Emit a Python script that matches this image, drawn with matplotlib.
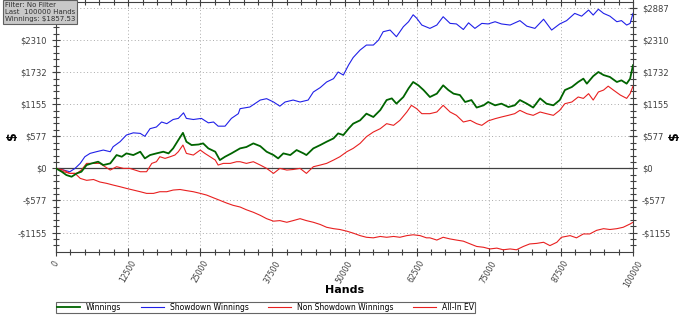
import numpy as np
import matplotlib.pyplot as plt

# hands / dollars
sd_hands = [0, 1300, 2400, 3300, 4200, 5000, 5900, 7000, 8200, 9400, 9900, 11100, 12200, 13400,
            14600, 15400, 16300, 17400, 18300, 19200, 20300, 21200, 22100, 22600, 23800, 25200,
            26400, 27300, 28100, 29300, 30400, 31600, 31900, 33600, 35400, 36500, 37700, 38800,
            39700, 41100, 42300, 43700, 44600, 45800, 46900, 48100, 48900, 49800, 50700, 51500,
            52700, 53800, 55000, 55900, 56700, 57900, 59000, 60200, 61100, 61900, 62500, 63400,
            64800, 66000, 67100, 68300, 69400, 70600, 71500, 72600, 73800, 74900, 76100, 77200,
            78700, 80400, 81600, 83000, 84500, 85900, 87300, 88500, 89900, 91100, 92300, 93100,
            94000, 94900, 96000, 97200, 98000, 98900, 99500, 100000]
sd_vals = [0, -30, -60, 0, 90, 210, 270, 300, 330, 300, 390, 480, 600, 640,
           630, 577, 715, 745, 835, 805, 880, 900, 1000, 900, 880, 900,
           820, 835, 760, 760, 900, 985, 1075, 1105, 1230, 1255, 1195, 1120,
           1195, 1230, 1195, 1230, 1375, 1455, 1555, 1615, 1735, 1680, 1860, 1995,
           2130, 2220, 2220, 2310, 2460, 2490, 2370, 2550, 2640, 2765, 2705, 2580,
           2520, 2580, 2730, 2610, 2600, 2500, 2620, 2520, 2610, 2600, 2640, 2600,
           2580, 2660, 2560, 2520, 2685, 2490, 2600, 2660, 2790, 2740, 2850, 2760,
           2865, 2790, 2740, 2640, 2660, 2580, 2610, 2790]

win_hands = [0, 1000, 1800, 2700, 3600, 4400, 5300, 6200, 7300, 8200, 9400, 10500, 11400, 12200,
             13400, 14600, 15400, 16300, 17400, 18600, 19500, 20300, 21200, 22000, 22600, 23500,
             24700, 25500, 26400, 27600, 28400, 29300, 30400, 31900, 33000, 34200, 35400, 36500,
             37700, 38500, 39400, 40600, 41700, 42900, 43400, 44600, 45800, 46900, 48100, 48900,
             49800, 50700, 51500, 52700, 53800, 55000, 56200, 57300, 58200, 59000, 60200, 61100,
             61900, 62800, 63700, 64800, 66000, 67100, 68000, 68900, 70000, 70900, 72000, 72900,
             74100, 74900, 76100, 77200, 78400, 79500, 80400, 81600, 82700, 83900, 85000, 86200,
             87300, 88200, 89400, 90500, 91400, 92000, 93100, 94000, 94900, 96000, 97200, 98000,
             98900, 99500, 100000]
win_vals = [0, -60, -120, -150, -90, -60, 60, 90, 120, 60, 90, 240, 210, 270,
            240, 300, 180, 240, 270, 300, 270, 360, 510, 640, 480, 420,
            430, 450, 360, 300, 150, 210, 270, 360, 385, 450, 400, 300,
            240, 180, 270, 240, 330, 270, 240, 360, 420, 480, 540, 630,
            600, 715, 805, 865, 985, 925, 1050, 1230, 1260, 1165, 1285, 1440,
            1555, 1495, 1410, 1285, 1345, 1495, 1410, 1345, 1320, 1195, 1230, 1095,
            1135, 1195, 1135, 1165, 1105, 1135, 1230, 1165, 1095, 1260, 1165, 1135,
            1230, 1410, 1465, 1555, 1615, 1525, 1660, 1735, 1680, 1645, 1555, 1585,
            1525, 1615, 1857.53]

nsd_hands = [0, 1300, 2400, 3600, 4400, 5300, 6500, 7600, 8500, 9400, 10500, 11700, 12800, 13700,
             14600, 15700, 16600, 17400, 18000, 18900, 19800, 20600, 21200, 22000, 22600, 23800,
             25000, 25800, 26700, 27600, 28100, 29000, 30200, 31300, 31900, 33000, 34200, 35400,
             36500, 37700, 38800, 40000, 41100, 42300, 43400, 44600, 45800, 46900, 48100, 49200,
             50400, 51500, 52700, 53800, 55000, 56200, 57300, 58500, 59600, 60800, 61600, 62500,
             63400, 64800, 66000, 67100, 68300, 69400, 70600, 71800, 72900, 73800, 74900, 76100,
             77200, 78400, 79500, 80400, 81600, 82700, 83900, 85000, 86200, 87300, 88200, 89400,
             90500, 91400, 92300, 93100, 94000, 94900, 95700, 96600, 97800, 98900, 99500, 100000]
nsd_vals = [0, -60, -90, -90, -30, 90, 90, 90, 30, -30, 30, 0, 0, -30,
            -60, -60, 90, 120, 210, 180, 210, 240, 300, 420, 270, 240,
            330, 270, 210, 150, 60, 90, 90, 120, 120, 90, 120, 60,
            0, -90, 0, -30, -20, 0, -90, 30, 60, 90, 150, 210,
            300, 360, 450, 570, 655, 715, 805, 775, 865, 1015, 1135, 1075,
            985, 985, 1015, 1135, 1015, 955, 835, 865, 805, 775, 855, 895,
            925, 955, 985, 1045, 985, 955, 1015, 985, 955, 1045, 1165, 1195,
            1285, 1260, 1345, 1230, 1375, 1410, 1480, 1410, 1320, 1260, 1345, 1480]

ev_hands = [0, 1300, 2400, 3300, 4200, 5300, 6500, 7600, 8800, 9900, 11100, 12200, 13400, 14600,
            15700, 16900, 18000, 19200, 20300, 21500, 22600, 23800, 25000, 26100, 27300, 28400,
            29600, 30700, 31900, 33000, 34200, 35400, 36500, 37700, 38800, 40000, 41100, 42300,
            43400, 44600, 45800, 46900, 48100, 49200, 50400, 51500, 52700, 53800, 55000, 56200,
            57300, 58500, 59600, 60800, 61900, 63100, 64200, 64800, 66000, 67100, 68300, 69400,
            70600, 71800, 72900, 74100, 75200, 76400, 77500, 78700, 79800, 81000, 82100, 83300,
            84500, 85600, 86800, 87600, 89100, 90200, 91400, 92500, 93700, 94900, 96000, 97200,
            98300, 99500, 100000]
ev_vals = [0, -30, -90, -90, -180, -215, -200, -245, -270, -300, -330, -360, -390, -420,
           -450, -450, -420, -420, -390, -380, -400, -420, -450, -480, -530, -575,
           -625, -665, -695, -745, -790, -845, -905, -950, -940, -970, -940, -905,
           -940, -970, -1010, -1060, -1085, -1100, -1130, -1165, -1210, -1240, -1250, -1225,
           -1240, -1225, -1240, -1210, -1195, -1210, -1250, -1250, -1290, -1240, -1270, -1290,
           -1310, -1360, -1405, -1420, -1450, -1435, -1465, -1450, -1465, -1405, -1360, -1350,
           -1330, -1390, -1330, -1240, -1210, -1250, -1180, -1180, -1115, -1085, -1100, -1085,
           -1060, -1000, -970]

x_ticks = [0, 12500, 25000, 37500, 50000, 62500, 75000, 87500, 100000]
y_ticks = [-1155, -577, 0, 577, 1155, 1732, 2310, 2887]
y_labels = ['-$1155', '-$577', '$0', '$577', '$1155', '$1732', '$2310', '$2887']

fig = plt.figure(figsize=(6.9, 3.2), dpi=100)
ax = fig.add_axes([56/690, 1-252/320, 577/690, 250/320])

ax.plot(win_hands, win_vals, color='#006400', lw=1.3, label='Winnings', zorder=4)
ax.plot(sd_hands, sd_vals, color='#2020e8', lw=0.8, label='Showdown Winnings', zorder=3)
ax.plot(nsd_hands, nsd_vals, color='#e82020', lw=0.8, label='Non Showdown Winnings', zorder=3)
ax.plot(ev_hands, ev_vals, color='#e82020', lw=0.8, label='All-In EV', zorder=3)
ax.axhline(0, color='#404040', lw=0.9, zorder=2)

ax.set_xlim(0, 100000)
ax.set_ylim(-1505, 2995)
ax.set_xticks(x_ticks)
ax.set_xticklabels([str(v) for v in x_ticks], rotation=60, fontsize=5.5, color='#404040')
ax.set_xticks(np.arange(0, 100001, 2500), minor=True)
ax.set_yticks(y_ticks)
ax.set_yticklabels(y_labels, fontsize=6, color='#404040')
ax.set_yticks(np.arange(-1386, 2995, 115.5), minor=True)
ax.tick_params(which='both', direction='inout', color='#404040', right=True, top=True,
               labelright=True)
ax.tick_params(which='major', length=6, width=0.8)
ax.tick_params(which='minor', length=4, width=0.8)
ax.tick_params(axis='x', which='major', pad=2)
ax.grid(True, which='major', linestyle=(0, (1, 2.5)), color='#aaaaaa', lw=0.7)
for s in ax.spines.values():
    s.set_color('#404040')
# top-left label sits under the info box in the original
ax.yaxis.get_major_ticks()[-1].label1.set_visible(False)

fig.text(345/690, 1-290/320, 'Hands', fontsize=8, fontweight='bold', ha='center', va='center')
fig.text(12/690, 1-136/320, '$', fontsize=9, fontweight='bold', rotation=90,
         ha='center', va='center')
fig.text(675/690, 1-136/320, '$', fontsize=9, fontweight='bold', rotation=90,
         ha='center', va='center')

leg = fig.legend(loc='lower left', bbox_to_anchor=(56/690, 1-313/320, 419/690, 9/320),
                 mode='expand', ncol=4, fontsize=5.5, frameon=True, fancybox=False,
                 borderpad=0.15, handlelength=3, handletextpad=0.8, borderaxespad=0)
leg.get_frame().set_edgecolor('#404040')
leg.get_frame().set_linewidth(0.8)

fig.text(5/690, 1-2/320, 'Filter: No Filter\nLast  100000 Hands\nWinnings: $1857.53',
         fontsize=5, color='#303030', va='top', ha='left', linespacing=1.25,
         bbox=dict(boxstyle='square,pad=0.25', fc='#c8c8c8', ec='#606060', lw=0.8))

fig.savefig('out.png', dpi=100)
